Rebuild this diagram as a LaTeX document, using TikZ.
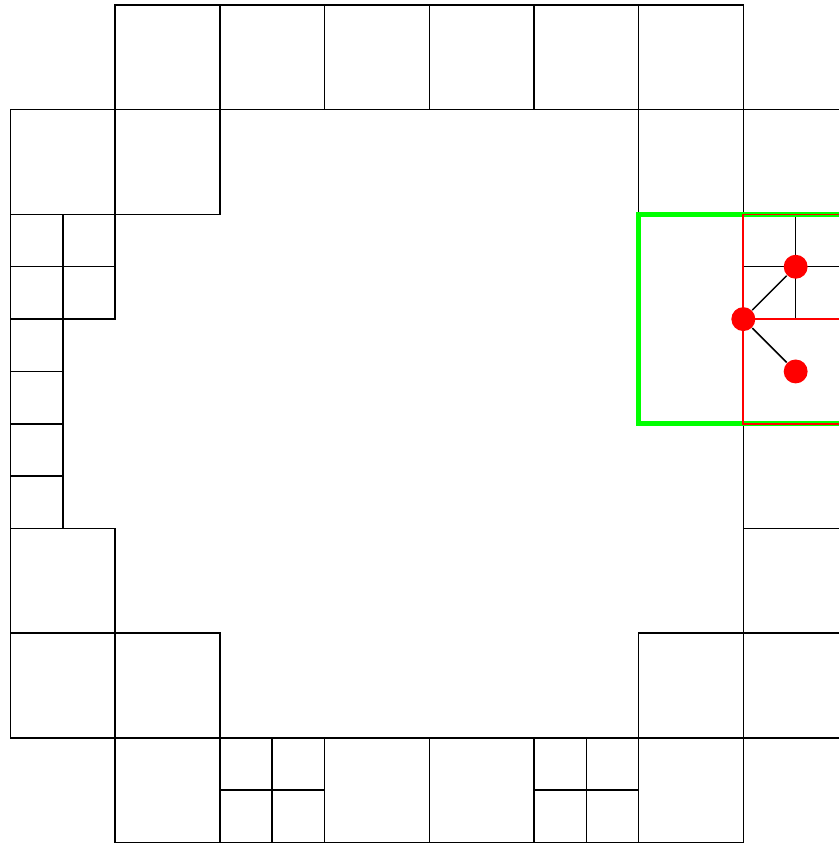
\documentclass[tikz,border=0pt]{standalone}
\usepackage{tikz}
\usetikzlibrary{positioning}
\usepackage{xcolor}
\definecolor{meshgreen}{HTML}{00FF00}
\definecolor{meshred}{HTML}{FF0000}

\begin{document}
\begin{tikzpicture}[
  cell/.style={draw=black, line width=0.4pt},
  frame/.style={draw=meshgreen, line width=1.4pt},
  leaf/.style={draw=meshred, line width=0.45pt},
  dot/.style={circle, fill=meshred, inner sep=0pt, minimum size=6.5pt},
  link/.style={draw=black, line width=0.4pt}
]
  \useasboundingbox (-0.1,-0.004) rectangle (7.913,8.048);
  \clip (-0.1,-0.004) rectangle (7.913,8.048);

  % full cells of the ring
  \foreach \x in {1,...,6} \draw[cell] (\x,7) rectangle ++(1,1);
  \foreach \x in {1,3,4,6} \draw[cell] (\x,0) rectangle ++(1,1);
  \foreach \x/\y in {0/6,1/6,6/6,7/6, 0/2,7/2, 0/1,1/1,6/1,7/1, 7/3}
    \draw[cell] (\x,\y) rectangle ++(1,1);

  % refined cells (split in four)
  \foreach \x/\y in {0/5, 2/0, 5/0, 7/5} {
    \draw[cell] (\x,\y) rectangle ++(1,1);
    \draw[cell] (\x+0.5,\y) -- ++(0,1);
    \draw[cell] (\x,\y+0.5) -- ++(1,0);
  }
  \foreach \y in {3,3.5,4,4.5}
    \draw[cell] (0,\y) rectangle ++(0.5,0.5);

  % highlighted patch
  \draw[frame] (6,4) rectangle (8,6);
  \draw[leaf] (7,5) rectangle (8,6);
  \draw[leaf] (7,4) rectangle (8,5);

  \node[dot] (root) at (7,5) {};
  \node[dot] (upper) at (7.5,5.5) {};
  \node[dot] (lower) at (7.5,4.5) {};

  \draw[link] (root) -- (upper);
  \draw[link] (root) -- (lower);
\end{tikzpicture}
\end{document}
